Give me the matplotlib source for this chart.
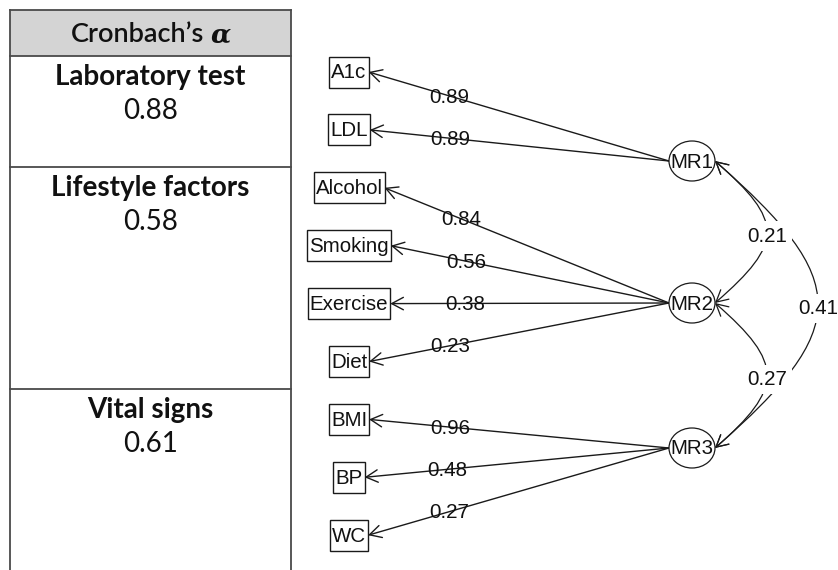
import matplotlib
matplotlib.use("Agg")
import matplotlib.pyplot as plt
from matplotlib.patches import Rectangle, Ellipse, FancyArrowPatch
from matplotlib.path import Path

# Reliability table
domains = ["Laboratory test", "Lifestyle factors", "Vital signs"]
alphas = [0.88, 0.58, 0.61]

# Factor model: observed indicators, their loadings and factors
indicators = ["A1c", "LDL", "Alcohol", "Smoking", "Exercise", "Diet", "BMI", "BP", "WC"]
loadings = [0.89, 0.89, 0.84, 0.56, 0.38, 0.23, 0.96, 0.48, 0.27]
indicator_factor = ["MR1", "MR1", "MR2", "MR2", "MR2", "MR2", "MR3", "MR3", "MR3"]
factors = ["MR1", "MR2", "MR3"]
corr_pairs = [("MR1", "MR2"), ("MR2", "MR3"), ("MR1", "MR3")]
corr_values = [0.21, 0.27, 0.41]

W, H = 838, 570
fig = plt.figure(figsize=(W / 100, H / 100), dpi=100)
ax = fig.add_axes([0, 0, 1, 1])
ax.set_xlim(0, W)
ax.set_ylim(H, 0)
ax.axis("off")

# ---------------- table ----------------
tcol = "#4a4a4a"
tx0, tx1 = 10, 291
row_edges = [10, 56, 167, 389, H + 5]
ax.add_patch(Rectangle((tx0, row_edges[0]), tx1 - tx0, row_edges[1] - row_edges[0],
                       facecolor="#d4d4d4", edgecolor="none", zorder=1))
for x in (tx0, tx1):
    ax.plot([x, x], [row_edges[0], row_edges[-1]], color=tcol, lw=1.3, zorder=2)
for y in row_edges[:-1]:
    ax.plot([tx0, tx1], [y, y], color=tcol, lw=1.3, zorder=2)

tab_font = "Lato"
tab_size = 20
xc = (tx0 + tx1) / 2
ax.text(138, 34, "Cronbach’s", fontsize=tab_size - 0.5, fontfamily=tab_font,
        fontweight="semibold", ha="center", va="center", color="#111111")
ax.text(221, 35, "α", fontsize=tab_size - 1, fontfamily="DejaVu Serif", fontweight="bold",
        fontstyle="italic", ha="center", va="center", color="#111111")
for i, (name, a) in enumerate(zip(domains, alphas)):
    top = row_edges[i + 1]
    ax.text(xc, top + 21, name, fontsize=tab_size, fontfamily=tab_font, fontweight="bold",
            ha="center", va="center", color="#111111")
    ax.text(xc, top + 55, f"{a:.2f}", fontsize=tab_size, fontfamily=tab_font,
            ha="center", va="center", color="#111111")

# ---------------- path diagram ----------------
dfont = "Liberation Sans"
dsize = 14.8
lcol = "#1a1a1a"
box_cx = 349
box_h = 31
ind_y0, ind_step = 72, 57.9
fac_x = 692
fac_y = {"MR1": 161, "MR2": 303, "MR3": 448}
rx, ry = 23, 20

fig.canvas.draw()
renderer = fig.canvas.get_renderer()

box_right = []
for i, name in enumerate(indicators):
    y = ind_y0 + i * ind_step
    t = ax.text(box_cx, y + 1, name, fontsize=dsize, fontfamily=dfont,
                ha="center", va="center", color="#111111", zorder=5)
    w = t.get_window_extent(renderer).width + 4
    ax.add_patch(Rectangle((box_cx - w / 2, y - box_h / 2), w, box_h,
                           facecolor="white", edgecolor=lcol, lw=1.0, zorder=4))
    box_right.append(box_cx + w / 2)

for f in factors:
    ax.add_patch(Ellipse((fac_x, fac_y[f]), 2 * rx, 2 * ry, facecolor="white",
                         edgecolor=lcol, lw=0.9, zorder=4))
    ax.text(fac_x, fac_y[f] + 1, f, fontsize=dsize, fontfamily=dfont,
            ha="center", va="center", color="#111111", zorder=5)

arrow_style = "->,head_length=0.6,head_width=0.32"
for i, (name, ld, f) in enumerate(zip(indicators, loadings, indicator_factor)):
    y = ind_y0 + i * ind_step
    start = (fac_x - rx, fac_y[f])
    end = (box_right[i], y)
    ax.add_patch(FancyArrowPatch(start, end, arrowstyle=arrow_style, mutation_scale=14,
                                 shrinkA=0, shrinkB=0, lw=1.0, color=lcol, zorder=3))
    frac = 0.27
    lx = end[0] + frac * (start[0] - end[0])
    ly = end[1] + frac * (start[1] - end[1])
    ax.text(lx, ly + 1, f"{ld:.2f}", fontsize=dsize, fontfamily=dfont,
            ha="center", va="center", color="#111111", zorder=5)

# factor correlations as curved double-headed arrows
for (fa, fb), r in zip(corr_pairs, corr_values):
    y1, y2 = fac_y[fa], fac_y[fb]
    x0 = fac_x + rx
    span = y2 - y1
    reach = 69 if span < 200 else 137
    dy = 60 if span < 200 else 120
    verts = [(x0, y1), (x0 + reach, y1 + dy), (x0 + reach, y2 - dy), (x0, y2)]
    path = Path(verts, [Path.MOVETO, Path.CURVE4, Path.CURVE4, Path.CURVE4])
    ax.add_patch(FancyArrowPatch(path=path, arrowstyle="<->,head_length=0.6,head_width=0.32",
                                 mutation_scale=14, lw=0.9, color=lcol, zorder=3))
    mx = x0 + 0.75 * reach
    my = (y1 + y2) / 2 + 4
    ax.text(mx, my, f"{r:.2f}", fontsize=dsize, fontfamily=dfont, ha="center", va="center",
            color="#111111", zorder=5,
            bbox=dict(boxstyle="square,pad=0.25", facecolor="white", edgecolor="none"))

fig.savefig("out.png", dpi=100, facecolor="white")
